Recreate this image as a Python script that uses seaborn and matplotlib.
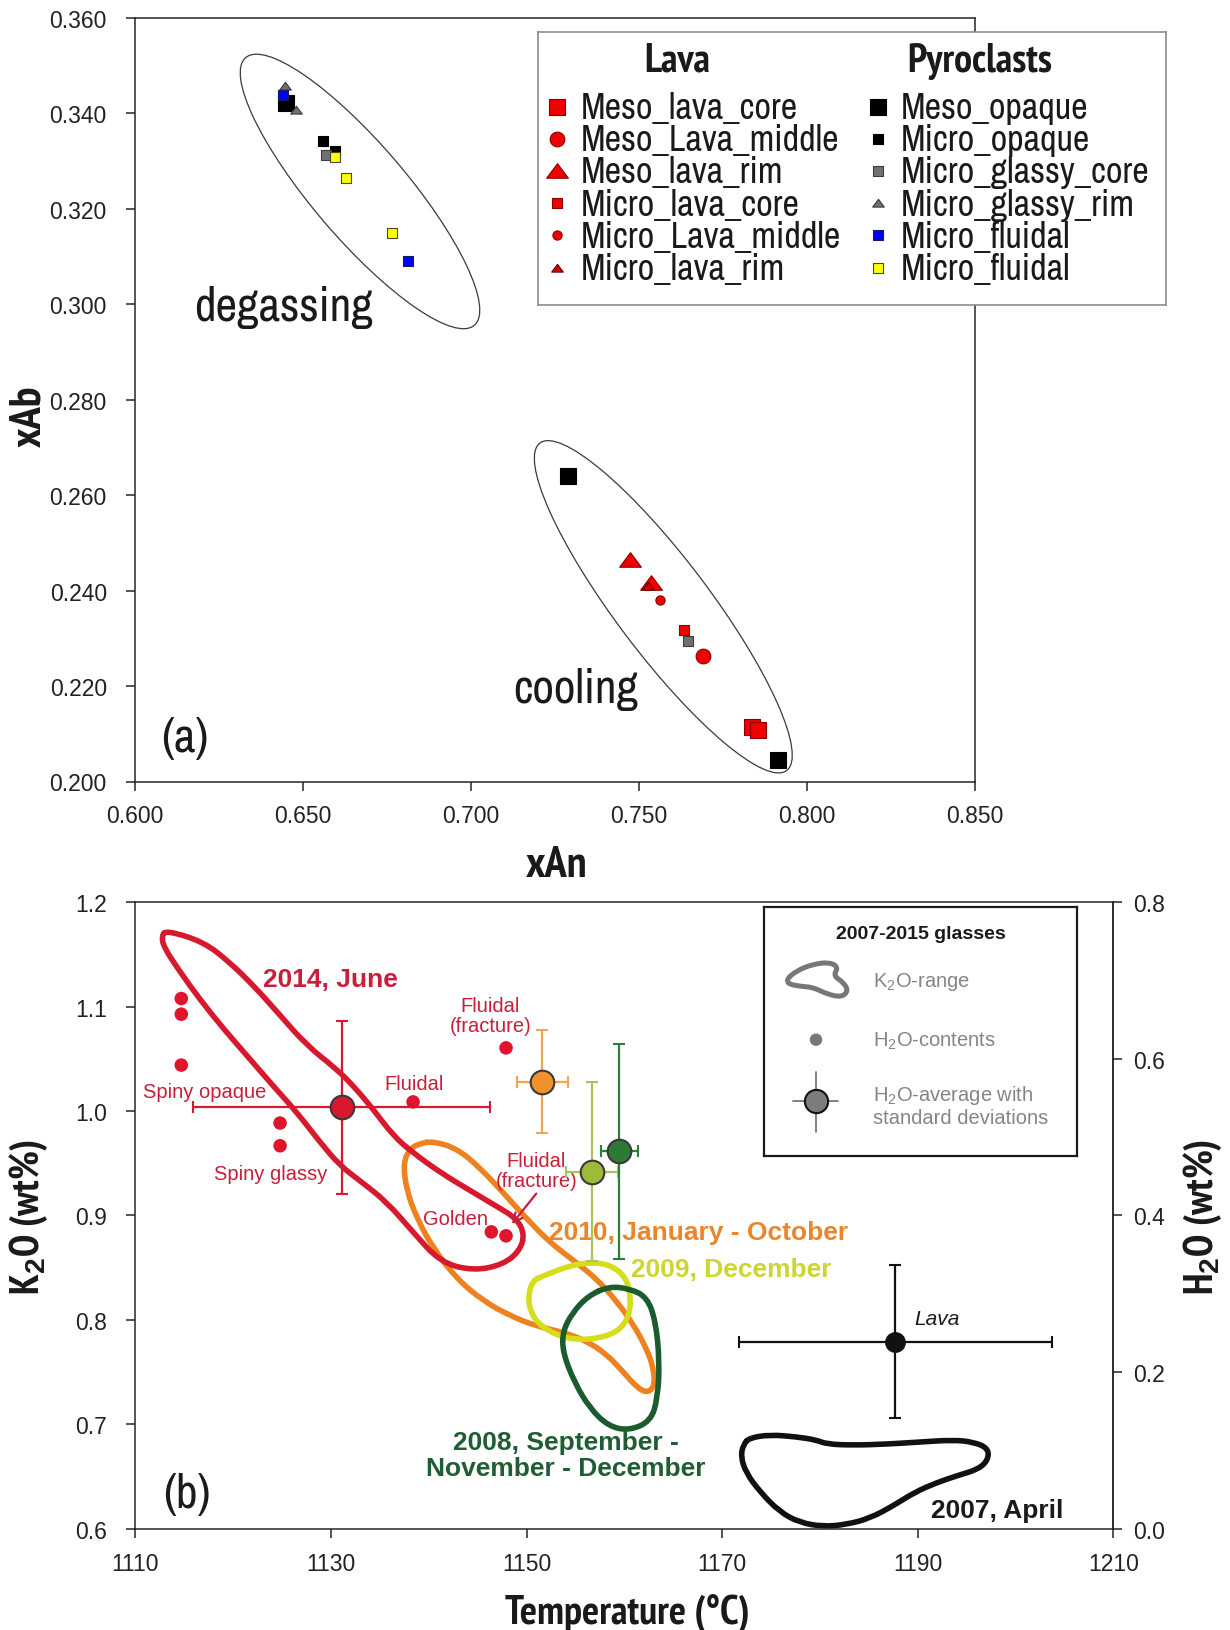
import numpy as np
import matplotlib
matplotlib.use("Agg")
import matplotlib.pyplot as plt
import seaborn as sns
from matplotlib import font_manager, transforms
from matplotlib.path import Path
from matplotlib.patches import PathPatch, Ellipse

# ---------------- panel (a): plagioclase xAn / xAb ----------------
meso_lava_core_xan = [0.7837, 0.7855]
meso_lava_core_xab = [0.2115, 0.2108]
meso_lava_middle_xan = [0.7689]
meso_lava_middle_xab = [0.2262]
meso_lava_rim_xan = [0.7473, 0.7534]
meso_lava_rim_xab = [0.2465, 0.2416]
micro_lava_core_xan = [0.7635]
micro_lava_core_xab = [0.2318]
micro_lava_middle_xan = [0.7562]
micro_lava_middle_xab = [0.2381]
micro_lava_rim_xan = [0.7527]
micro_lava_rim_xab = [0.2410]

meso_opaque_xan = [0.6448, 0.7289, 0.7914]
meso_opaque_xab = [0.3421, 0.2640, 0.2044]
micro_opaque_xan = [0.6560, 0.6595]
micro_opaque_xab = [0.3341, 0.3320]
micro_glassy_core_xan = [0.6568, 0.7646]
micro_glassy_core_xab = [0.3313, 0.2295]
micro_glassy_rim_xan = [0.6446, 0.6478]
micro_glassy_rim_xab = [0.3456, 0.3406]
micro_fluidal_blue_xan = [0.6439, 0.6811]
micro_fluidal_blue_xab = [0.3438, 0.3091]
micro_fluidal_yellow_xan = [0.6595, 0.6627, 0.6765]
micro_fluidal_yellow_xab = [0.3309, 0.3264, 0.3148]

# trend envelopes: centre (xAn, xAb), semi-axes (px), tilt (deg)
degassing_center = (0.6669, 0.3236)
degassing_axes_px = (176, 47)
degassing_angle = -49.5
cooling_center = (0.7572, 0.2366)
cooling_axes_px = (205, 47)
cooling_angle = -53.0

# ---------------- panel (b): K2O ranges and H2O ----------------
k2o_2014_T = [1113.2, 1117.0, 1119.7, 1122.1, 1124.5, 1127.5, 1130.6, 1132.3, 1134.3, 1136.4,
              1138.4, 1141.2, 1144.2, 1146.9, 1149.0, 1149.8, 1149.3, 1147.6, 1144.6, 1141.2,
              1138.4, 1135.7, 1133.0, 1130.9, 1128.9, 1126.5, 1124.1, 1121.7, 1119.0, 1116.6,
              1114.6, 1112.9, 1112.7]
k2o_2014_K = [1.173, 1.162, 1.142, 1.120, 1.095, 1.063, 1.040, 1.024, 1.002, 0.976,
              0.960, 0.941, 0.924, 0.909, 0.897, 0.882, 0.866, 0.853, 0.847, 0.855,
              0.884, 0.913, 0.933, 0.948, 0.970, 0.999, 1.024, 1.050, 1.079, 1.107,
              1.133, 1.157, 1.168]

k2o_2010_T = [1140.5, 1142.9, 1145.2, 1147.6, 1150.0, 1152.4, 1154.8, 1157.2, 1159.2, 1160.9,
              1162.3, 1163.0, 1163.1, 1162.4, 1161.3, 1159.9, 1158.2, 1156.1, 1153.8, 1151.0,
              1148.3, 1145.6, 1142.9, 1140.5, 1138.8, 1137.7, 1137.4, 1138.1, 1139.1]
k2o_2010_K = [0.971, 0.964, 0.946, 0.922, 0.897, 0.874, 0.857, 0.839, 0.818, 0.796,
              0.772, 0.753, 0.737, 0.730, 0.735, 0.750, 0.767, 0.780, 0.788, 0.794,
              0.804, 0.818, 0.839, 0.868, 0.897, 0.925, 0.951, 0.964, 0.969]

k2o_2009_T = [1151.7, 1154.4, 1156.5, 1158.5, 1160.2, 1160.7, 1160.4, 1159.2, 1157.2, 1155.1,
              1153.1, 1151.2, 1150.3, 1150.2, 1150.7]
k2o_2009_K = [0.842, 0.852, 0.855, 0.853, 0.841, 0.820, 0.801, 0.788, 0.782, 0.781,
              0.785, 0.796, 0.810, 0.826, 0.838]

k2o_2008_T = [1158.4, 1160.5, 1162.3, 1163.2, 1163.6, 1163.4, 1162.7, 1160.5, 1158.4, 1156.5,
              1154.9, 1153.7, 1153.7, 1154.7, 1156.3]
k2o_2008_K = [0.832, 0.830, 0.822, 0.799, 0.760, 0.725, 0.703, 0.694, 0.698, 0.715,
              0.740, 0.769, 0.789, 0.807, 0.823]

k2o_2007_T = [1172.8, 1174.9, 1177.6, 1179.6, 1180.7, 1183.4, 1186.8, 1190.2, 1193.6, 1195.7,
              1197.2, 1197.2, 1196.2, 1194.1, 1191.9, 1189.7, 1187.5, 1185.1, 1182.7, 1180.3,
              1177.9, 1175.9, 1173.9, 1172.4, 1171.9, 1172.2]
k2o_2007_K = [0.687, 0.690, 0.688, 0.685, 0.681, 0.680, 0.681, 0.683, 0.685, 0.683,
              0.677, 0.666, 0.657, 0.651, 0.644, 0.635, 0.622, 0.610, 0.604, 0.602,
              0.606, 0.616, 0.635, 0.654, 0.670, 0.681]

# 2014 individual H2O contents
h2o_2014_T = [1114.7, 1114.7, 1114.7, 1124.8, 1124.8, 1138.4, 1147.9, 1146.4, 1147.9]
h2o_2014_wt = [0.677, 0.657, 0.592, 0.518, 0.489, 0.545, 0.614, 0.379, 0.374]

# H2O averages with standard deviations: 2014, 2010, 2009, 2008, lava
avg_T = [1131.1, 1151.6, 1156.7, 1159.5, 1187.7]
avg_T_sd = [15.2, 2.6, 2.7, 1.85, 16.0]
avg_h2o = [0.538, 0.571, 0.456, 0.482, 0.239]
avg_h2o_sd = [0.110, 0.066, 0.1145, 0.1375, 0.098]

# ---------------- styling ----------------
sns.set_style("ticks")
plt.rcParams["font.family"] = ["Liberation Sans", "DejaVu Sans"]
plt.rcParams["mathtext.fontset"] = "custom"
plt.rcParams["mathtext.rm"] = "Liberation Sans"
plt.rcParams["mathtext.it"] = "Liberation Sans:italic"
plt.rcParams["mathtext.bf"] = "Liberation Sans:bold"

entries = font_manager.fontManager.ttflist
installed = {f.name for f in entries}


def has_bold(name):
    for f in entries:
        if f.name == name:
            w = f.weight
            if (isinstance(w, (int, float)) and w >= 600) or (isinstance(w, str) and "bold" in w.lower()):
                return True
    return False


narrow_choices = [n for n in ("Archivo Narrow", "Roboto Condensed", "PT Sans Narrow",
                              "Liberation Sans Narrow") if n in installed]
bold_choices = [n for n in ("PT Sans Narrow", "Roboto Condensed", "Fira Sans Condensed",
                            "IBM Plex Sans Condensed", "Liberation Sans Narrow") if has_bold(n)]
HAS_NARROW = bool(narrow_choices)
HAS_BNARROW = bool(bold_choices)
NARROW = narrow_choices[:1] + ["Liberation Sans", "DejaVu Sans"]
BNARROW = bold_choices[:1] + ["Liberation Sans", "DejaVu Sans"]


def nsz(pt):
    return pt if HAS_NARROW else pt * 0.82


def bsz(pt):
    return pt if HAS_BNARROW else pt * 0.78


W, H = 1230, 1631
fig = plt.figure(figsize=(W / 100, H / 100), dpi=100)

DARK = "#262626"
RED_F, RED_E = "#f00000", "#8a0000"
tri = Path([(-1.0, -0.62), (1.0, -0.62), (0.0, 0.72), (-1.0, -0.62)],
           [Path.MOVETO, Path.LINETO, Path.LINETO, Path.CLOSEPOLY])

series_a = [
    ("Meso_lava_core", meso_lava_core_xan, meso_lava_core_xab, "s", 132, RED_F, RED_E),
    ("Meso_Lava_middle", meso_lava_middle_xan, meso_lava_middle_xab, "o", 112, RED_F, RED_E),
    ("Meso_lava_rim", meso_lava_rim_xan, meso_lava_rim_xab, tri, 245, RED_F, RED_E),
    ("Micro_lava_core", micro_lava_core_xan, micro_lava_core_xab, "s", 44, RED_F, RED_E),
    ("Micro_Lava_middle", micro_lava_middle_xan, micro_lava_middle_xab, "o", 44, RED_F, RED_E),
    ("Micro_lava_rim", micro_lava_rim_xan, micro_lava_rim_xab, tri, 70, "#d40000", "#6a0000"),
    ("Meso_opaque", meso_opaque_xan, meso_opaque_xab, "s", 132, "#000000", "#000000"),
    ("Micro_opaque", micro_opaque_xan, micro_opaque_xab, "s", 44, "#000000", "#000000"),
    ("Micro_glassy_core", micro_glassy_core_xan, micro_glassy_core_xab, "s", 44, "#707070", "#3c3c3c"),
    ("Micro_glassy_rim", micro_glassy_rim_xan, micro_glassy_rim_xab, tri, 70, "#707070", "#3c3c3c"),
    ("Micro_fluidal", micro_fluidal_blue_xan, micro_fluidal_blue_xab, "s", 44, "#0000ff", "#1a1a60"),
    ("Micro_fluidal", micro_fluidal_yellow_xan, micro_fluidal_yellow_xab, "s", 44, "#ffff00", "#4a4a20"),
]

# ================= panel (a) =================
ax1 = fig.add_axes([135.3 / W, 1 - 782.5 / H, 839.7 / W, 763.8 / H])
ax1.set_xlim(0.600, 0.850)
ax1.set_ylim(0.200, 0.360)
for spine in ax1.spines.values():
    spine.set_visible(True)
    spine.set_color(DARK)
    spine.set_linewidth(1.1)

draw_order = [6, 7, 8, 9, 10, 11, 0, 1, 3, 4, 2, 5]
for i in draw_order:
    label, xs, ys, mk, size, fc, ec = series_a[i]
    sns.scatterplot(x=xs, y=ys, marker=mk, s=size, color=fc, edgecolor=ec,
                    linewidth=0.8, ax=ax1, legend=False, zorder=3)


def envelope(ax, center, axes_px, angle):
    offset = transforms.ScaledTranslation(center[0], center[1], ax.transData)
    e = Ellipse((0, 0), 2 * axes_px[0] / fig.dpi, 2 * axes_px[1] / fig.dpi, angle=angle,
                transform=fig.dpi_scale_trans + offset, fill=False,
                edgecolor="#3a3a3a", lw=0.9, zorder=2)
    ax.add_patch(e)


envelope(ax1, degassing_center, degassing_axes_px, degassing_angle)
envelope(ax1, cooling_center, cooling_axes_px, cooling_angle)

ax1.text(0.644, 0.2994, "degassing", family=NARROW, fontsize=nsz(34), color="#1a1a1a",
         ha="center", va="center")
ax1.text(0.7311, 0.2194, "cooling", family=NARROW, fontsize=nsz(34), color="#1a1a1a",
         ha="center", va="center")
ax1.text(0.0592, 0.057, "(a)", transform=ax1.transAxes, family=NARROW, fontsize=nsz(34),
         color="#1a1a1a", ha="center", va="center")

ax1.set_xticks(np.arange(0.600, 0.851, 0.050))
ax1.set_yticks(np.arange(0.200, 0.361, 0.020))
ax1.set_xticklabels([f"{v:.3f}" for v in np.arange(0.600, 0.851, 0.050)])
ax1.set_yticklabels([f"{v:.3f}" for v in np.arange(0.200, 0.361, 0.020)])
ax1.tick_params(axis="both", direction="out", length=6.5, width=1.1, color=DARK,
                labelsize=16.5, labelcolor="#222222")
ax1.tick_params(axis="y", pad=14)
ax1.tick_params(axis="x", pad=10)

ax1.set_xlabel("xAn", family=BNARROW, fontsize=bsz(32), fontweight="bold", color="#1a1a1a")
ax1.set_ylabel("xAb", family=BNARROW, fontsize=bsz(32), fontweight="bold", color="#1a1a1a")
ax1.xaxis.set_label_coords(0.502, -0.1093)
ax1.yaxis.set_label_coords(-0.1266, 0.48)
for lab in (ax1.xaxis.label, ax1.yaxis.label):
    lab.set_va("center")
    lab.set_ha("center")
    lab.set_rotation_mode("anchor")

# legend of panel (a), laid out in pixel units
lg1 = fig.add_axes([538 / W, 1 - 306 / H, 628 / W, 273 / H])
lg1.set_xlim(538, 1166)
lg1.set_ylim(306, 33)
lg1.set_xticks([])
lg1.set_yticks([])
lg1.set_facecolor("white")
for spine in lg1.spines.values():
    spine.set_color("#8c8c8c")
    spine.set_linewidth(1.2)
lg1.text(677, 61.4, "Lava", family=BNARROW, fontsize=bsz(29), fontweight="bold",
         color="#1a1a1a", ha="center", va="center")
lg1.text(979.5, 61.4, "Pyroclasts", family=BNARROW, fontsize=bsz(29), fontweight="bold",
         color="#1a1a1a", ha="center", va="center")
for i, (label, xs, ys, mk, size, fc, ec) in enumerate(series_a):
    col, row = divmod(i, 6)
    mx = 556.7 if col == 0 else 878.3
    tx = 580.7 if col == 0 else 901.2
    ry = 107.5 + row * 32.2
    lg1.scatter([mx], [ry], marker=mk, s=size, color=fc, edgecolor=ec, linewidth=0.8)
    lg1.text(tx, ry + 1, label, family=NARROW, fontsize=nsz(26), color="#1a1a1a",
             ha="left", va="center")

# ================= panel (b) =================
RED = "#d7192e"
RED_TXT = "#c91d3a"
ORANGE = "#ef8220"
YELLOW = "#d6de1c"
DGREEN = "#1b5b2e"

ax = fig.add_axes([135.3 / W, 1 - 1529.7 / H, 978.1 / W, 626.5 / H])
ax.set_xlim(1110, 1210)
ax.set_ylim(0.6, 1.2)
for spine in ax.spines.values():
    spine.set_visible(True)
    spine.set_color(DARK)
    spine.set_linewidth(1.1)


def smooth_loop(xs, ys):
    pts = np.column_stack([xs, ys])
    mids = (pts + np.roll(pts, -1, axis=0)) / 2.0
    verts = [mids[-1]]
    codes = [Path.MOVETO]
    for p, m in zip(pts, mids):
        verts += [p, m]
        codes += [Path.CURVE3, Path.CURVE3]
    return Path(verts, codes)


for xs, ys, c in [(k2o_2007_T, k2o_2007_K, "#111111"),
                  (k2o_2010_T, k2o_2010_K, ORANGE),
                  (k2o_2009_T, k2o_2009_K, YELLOW),
                  (k2o_2008_T, k2o_2008_K, DGREEN),
                  (k2o_2014_T, k2o_2014_K, RED)]:
    ax.add_patch(PathPatch(smooth_loop(xs, ys), fill=False, edgecolor=c, lw=4.0,
                           joinstyle="round", capstyle="round", zorder=2))

ax.text(1130.0, 1.126, "2014, June", color=RED_TXT, fontsize=19, fontweight="bold",
        ha="center", va="center")
ax.text(1152.3, 0.884, "2010, January - October", color="#ea862a", fontsize=19,
        fontweight="bold", ha="left", va="center")
ax.text(1160.7, 0.849, "2009, December", color="#cdd62e", fontsize=19, fontweight="bold",
        ha="left", va="center")
ax.text(1154.0, 0.6705, "2008, September -\nNovember - December", color="#1f5d33",
        fontsize=19, fontweight="bold", ha="center", va="center", linespacing=1.1)
ax.text(1204.9, 0.6178, "2007, April", color="#1a1a1a", fontsize=19, fontweight="bold",
        ha="right", va="center")
ax.text(0.0529, 0.0554, "(b)", transform=ax.transAxes, family=NARROW, fontsize=nsz(34),
        color="#1a1a1a", ha="center", va="center")

ax.set_xticks(np.arange(1110, 1211, 20))
ax.set_yticks(np.arange(0.6, 1.21, 0.1))
ax.set_yticklabels([f"{v:.1f}" for v in np.arange(0.6, 1.21, 0.1)])
ax.tick_params(axis="both", direction="out", length=6.5, width=1.1, color=DARK,
               labelsize=16.5, labelcolor="#222222")
ax.tick_params(axis="y", pad=14)
ax.tick_params(axis="x", pad=10)
ax.set_xlabel("Temperature (°C)", family=BNARROW, fontsize=bsz(29), fontweight="bold",
              color="#1a1a1a")
ax.set_ylabel(r"K$_\mathbf{2}$O (wt%)", family=BNARROW, fontsize=bsz(29), fontweight="bold",
              color="#1a1a1a")
ax.xaxis.set_label_coords(0.5032, -0.133)
ax.yaxis.set_label_coords(-0.1087, 0.499)

ax2 = ax.twinx()
ax2.set_ylim(0.0, 0.8)
for side in ("left", "top", "bottom"):
    ax2.spines[side].set_visible(False)
ax2.spines["right"].set_color(DARK)
ax2.spines["right"].set_linewidth(1.1)
ax2.set_yticks(np.arange(0.0, 0.81, 0.2))
ax2.set_yticklabels([f"{v:.1f}" for v in np.arange(0.0, 0.81, 0.2)])
ax2.tick_params(axis="y", direction="out", length=6.5, width=1.1, color=DARK,
                labelsize=16.5, labelcolor="#222222", pad=8)
ax2.set_ylabel(r"H$_\mathbf{2}$O (wt%)", family=BNARROW, fontsize=bsz(29), fontweight="bold",
               color="#1a1a1a")
ax2.yaxis.set_label_coords(1.0906, 0.499)
for lab in (ax.xaxis.label, ax.yaxis.label, ax2.yaxis.label):
    lab.set_va("center")
    lab.set_ha("center")
    lab.set_rotation_mode("anchor")

sns.scatterplot(x=h2o_2014_T, y=h2o_2014_wt, marker="o", s=95, color="#e0142c",
                edgecolor="none", ax=ax2, legend=False, zorder=4)

avg_face = [RED, "#f0922c", "#9dbb3a", "#2c7a36", "#111111"]
avg_bar = [RED, "#f2a552", "#a9c55a", "#2f7d3a", "#111111"]
avg_ms = [17, 17, 17, 17, 13.5]
for t, ts, h, hs, fc, bc, ms in zip(avg_T, avg_T_sd, avg_h2o, avg_h2o_sd, avg_face, avg_bar, avg_ms):
    ax2.errorbar(t, h, xerr=ts, yerr=hs, fmt="o", ms=ms, mfc=fc,
                 mec="#3a3a3a" if fc != "#111111" else "#111111", mew=1.5,
                 ecolor=bc, elinewidth=1.6, capsize=4.5, capthick=1.6, zorder=5)

lab_kw = dict(color=RED_TXT, fontsize=14.5, ha="center", va="center")
ax2.text(1117.1, 0.558, "Spiny opaque", **lab_kw)
ax2.text(1123.8, 0.453, "Spiny glassy", **lab_kw)
ax2.text(1138.5, 0.568, "Fluidal", **lab_kw)
ax2.text(1146.3, 0.655, "Fluidal\n(fracture)", linespacing=1.05, **lab_kw)
ax2.text(1142.7, 0.3955, "Golden", **lab_kw)
ax2.text(1151.0, 0.457, "Fluidal\n(fracture)", linespacing=1.05, **lab_kw)
ax2.annotate("", xy=(1148.5, 0.389), xytext=(1151.0, 0.428),
             arrowprops=dict(arrowstyle="->", color=RED_TXT, lw=1.6, mutation_scale=16,
                             shrinkA=0, shrinkB=0))
ax2.text(1189.6, 0.2684, "Lava", color="#1a1a1a", fontsize=15, style="italic",
         ha="left", va="center")

# legend of panel (b), laid out in pixel units
lg2 = fig.add_axes([764 / W, 1 - 1157 / H, 313 / W, 249 / H])
lg2.set_xlim(764, 1077)
lg2.set_ylim(1157, 908)
lg2.set_xticks([])
lg2.set_yticks([])
lg2.set_facecolor("white")
for spine in lg2.spines.values():
    spine.set_color("#1a1a1a")
    spine.set_linewidth(1.6)
GREY_TXT = "#858585"
lg2.text(920.5, 935, "2007-2015 glasses", fontsize=14, fontweight="bold", color="#1a1a1a",
         ha="center", va="center")
icon_x = [786.7, 796.7, 813.3, 830.0, 838.3, 833.3, 843.3, 848.3, 841.7, 826.7, 813.3, 800.0, 788.3]
icon_y = [980.0, 971.7, 965.0, 963.3, 968.3, 976.7, 983.3, 991.7, 998.3, 995.0, 988.3, 987.3, 985.0]
lg2.add_patch(PathPatch(smooth_loop(icon_x, icon_y), fill=False, edgecolor="#777777", lw=3.6,
                        joinstyle="round"))
lg2.scatter([816], [1040.7], s=80, color="#777777", edgecolor="none")
lg2.plot([793, 838], [1102.3, 1102.3], color="#777777", lw=1.3)
lg2.plot([816, 816], [1072.7, 1133], color="#777777", lw=1.3)
lg2.scatter([816], [1102.3], s=280, color="#7c7c7c", edgecolor="#111111", linewidth=1.5, zorder=3)
lg2.text(872.7, 981.7, r"K$_2$O-range", fontsize=14.5, color=GREY_TXT, ha="left", va="center")
lg2.text(872.7, 1041.7, r"H$_2$O-contents", fontsize=14.5, color=GREY_TXT, ha="left", va="center")
lg2.text(872.7, 1106, "H$_2$O-average with\nstandard deviations", fontsize=14.5,
         color=GREY_TXT, ha="left", va="center", linespacing=1.15)

fig.savefig("out.png", dpi=100, facecolor="white")
